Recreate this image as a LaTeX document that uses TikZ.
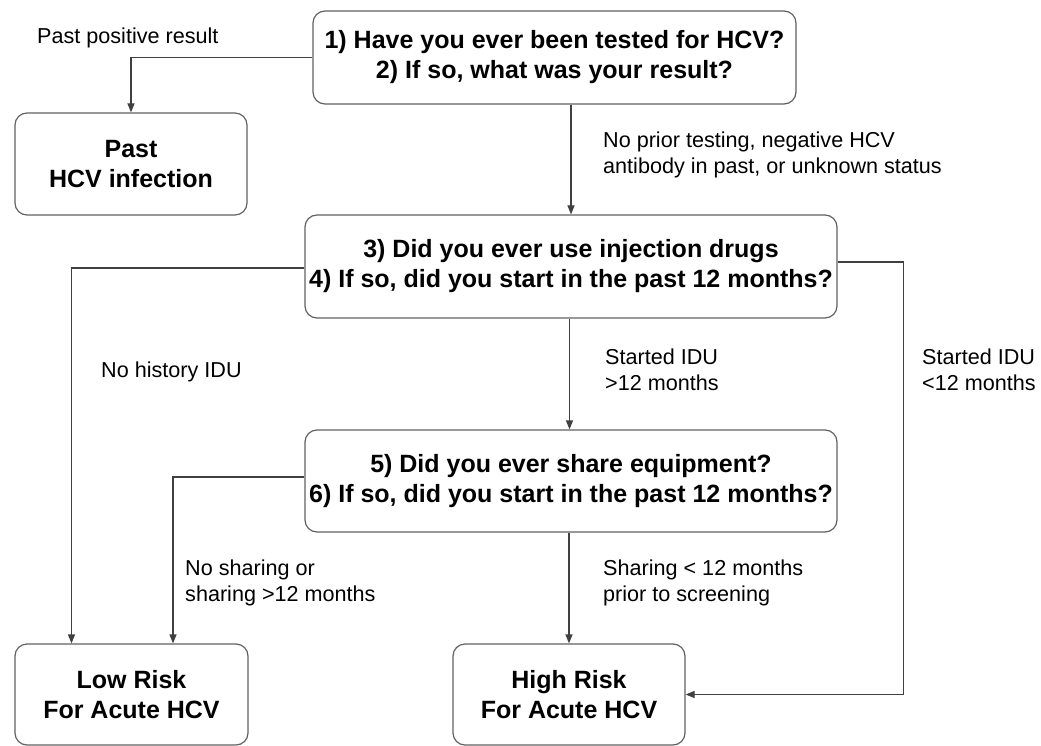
\documentclass[tikz,border=0pt]{standalone}
\usepackage{fontspec}
\setmainfont{Liberation Sans}
\usetikzlibrary{arrows.meta}
\begin{document}
\begin{tikzpicture}[x=1pt,y=-1pt,
  box/.style={draw=black!62, line width=1.2pt, rounded corners=12pt, align=center,
    font=\bfseries\fontsize{25}{30}\selectfont, inner sep=0pt},
  conn/.style={draw=black!75, line width=1.2pt, -{Triangle[length=9pt,width=7pt]}},
  lbl/.style={font=\fontsize{21.6}{26}\selectfont, align=left, anchor=west, inner sep=0pt}]
\useasboundingbox[fill=white] (0,0) rectangle (1041,746);
% boxes
\node[box, minimum width=483pt, minimum height=93pt] (q1) at (554.5,57.5)
  {1) Have you ever been tested for HCV?\\2) If so, what was your result?};
\node[box, minimum width=232pt, minimum height=102pt] (past) at (131,164)
  {Past\\HCV infection};
\node[box, minimum width=532pt, minimum height=103pt] (q3) at (571,266.5)
  {3) Did you ever use injection drugs\\4) If so, did you start in the past 12 months?};
\node[box, minimum width=532pt, minimum height=102pt] (q5) at (571,481)
  {5) Did you ever share equipment?\\6) If so, did you start in the past 12 months?};
\node[box, minimum width=233pt, minimum height=101pt] (low) at (131.5,694.5)
  {Low Risk\\For Acute HCV};
\node[box, minimum width=232pt, minimum height=101pt] (high) at (569,694.5)
  {High Risk\\For Acute HCV};
% connectors
\draw[conn] (q1.west) -| (past.north);
\draw[conn] (q1.south -| q3.north) -- (q3.north);
\draw[conn] ([yshift=-1.5pt]q3.west) -| ([xshift=-60pt]low.north);
\draw[conn] ([yshift=4.5pt]q3.east) -- ++(66,0) |- (high.east);
\draw[conn] ([xshift=-1.5pt]q3.south) -- ([xshift=-1.5pt]q5.north);
\draw[conn] ([yshift=4pt]q5.west) -| ([xshift=41.5pt]low.north);
\draw[conn] (q5.south -| high.north) -- (high.north);
% labels
\node[lbl] (l1) at (37,38) {Past positive result};
\node[lbl] (l2) at (603,155) {No prior testing, negative HCV\\antibody in past, or unknown status};
\node[lbl] (l3) at (101,372) {No history IDU};
\node[lbl] (l4) at (605,370) {Started IDU\\>12 months};
\node[lbl] (l5) at (922,370) {Started IDU\\<12 months};
\node[lbl] (l6) at (185,583) {No sharing or\\sharing >12 months};
\node[lbl] (l7) at (603,583) {Sharing < 12 months\\prior to screening};
\end{tikzpicture}
\end{document}
